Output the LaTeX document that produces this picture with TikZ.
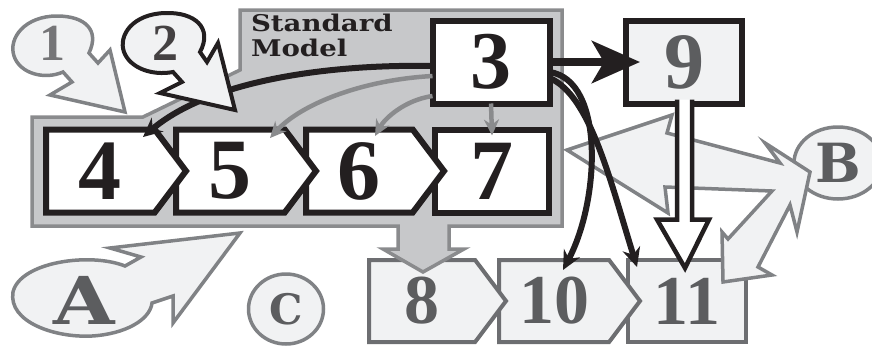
\documentclass[tikz,border=0pt]{standalone}
\usepackage{fontspec}
\setmainfont{DejaVu Serif}
\newfontfamily\numfont{Liberation Serif}
\newfontfamily\widefont[FakeStretch=1.2]{DejaVu Serif}
\usepackage{tikz}
\usetikzlibrary{shapes.symbols,shapes.geometric,calc,arrows.meta}
\definecolor{ink}{HTML}{231F20}
\definecolor{smfill}{HTML}{C7C8CA}
\definecolor{smedge}{HTML}{8A8B8D}
\definecolor{paper}{HTML}{F1F2F3}
\definecolor{greyedge}{HTML}{808285}
\definecolor{boxedge}{HTML}{6D6E71}
\definecolor{greytext}{HTML}{5C5D5F}

\begin{document}
\begin{tikzpicture}[x=1pt, y=-1pt,
	every node/.style={outer sep=0pt, inner sep=0pt},
	topbox/.style={draw=ink, line width=6pt, fill=white, text=ink, line join=miter,
		font=\numfont\bfseries\fontsize{86}{86}\selectfont, minimum height=83pt},
	lowbox/.style={draw=boxedge, line width=4pt, fill=paper, text=greytext, line join=miter,
		font=\numfont\bfseries\fontsize{70}{70}\selectfont, minimum height=82pt},
	chev/.style={shape=signal, signal to=east, signal pointer angle=106},
	loopy/.style={line width=3.5pt, fill=paper, line join=miter},
	ring/.style={shape=ellipse, draw=greyedge, line width=3.5pt, fill=paper, text=greytext},
	feed/.style={draw=smedge, line width=4.5pt, -{Stealth[length=16pt,width=15pt]}},
	link/.style={draw=ink, line width=6pt, -{Stealth[length=19pt,width=18pt]}}]
	\useasboundingbox (0,0) rectangle (872,346);
	\clip (0,0) rectangle (872,346);

	\node[lowbox, minimum width=118pt] (n11) at (687,301) {11};
	\node[lowbox, chev, minimum width=141pt, anchor=west] (n10) at (499,301) {10};
	\node[lowbox, chev, minimum width=137pt, anchor=west] (n8) at (369,301) {8};

	\draw[smedge, line width=3.5pt, fill=smfill, line join=miter]
		(32,117) -- (143,117) -- (240,70) -- (240,10) -- (562,10) -- (562,226)
		-- (449,226) -- (449,249) -- (464,249) -- (423,272) -- (383,249) -- (398,249)
		-- (398,226) -- (32,226) -- cycle;
	\node[font=\widefont\bfseries\fontsize{23}{25}\selectfont, text=ink, align=left, anchor=north west] (sm) at (251,14) {Standard\\Model};

	\node[topbox, minimum width=114pt] (n7) at (492,171) {7};
	\node[topbox, chev, minimum width=138pt, anchor=west] (n6) at (306,171) {6};
	\node[topbox, chev, minimum width=140pt, anchor=west] (n5) at (176,171) {5};
	\node[topbox, chev, minimum width=140pt, anchor=west] (n4) at (46,171) {4};
	\node[topbox, minimum width=117pt, font=\numfont\bfseries\fontsize{82}{82}\selectfont] (n3) at (491,62) {3};
	\node[topbox, fill=paper, text=greytext, minimum width=116pt, font=\numfont\bfseries\fontsize{80}{80}\selectfont] (n9) at (684,62) {9};

	\draw[feed] ($(n3.west)+(0,14)$) .. controls (360,80) and (300,105) .. ($(n5.west)+(94,-33)$);
	\draw[feed] ($(n3.west)+(0,34)$) .. controls (405,100) and (385,118) .. ($(n6.west)+(69,-35)$);
	\draw[feed] (n3.south) -- ($(n7.north)+(0,6)$);
	\draw[link] ($(n3.west)+(0,4)$) .. controls (330,64) and (210,80) .. ($(n4.west)+(97,-34)$);

	\draw[loopy, draw=greyedge] (125,112) -- (110,50) -- (98,63) -- (89,53)
		.. controls (100,30) and (85,16) .. (57,16)
		.. controls (25,16) and (8,38) .. (14,56)
		.. controls (20,74) and (45,80) .. (63,72)
		-- (72,82) -- (50,95) -- cycle;
	\draw[loopy, draw=ink, line width=4pt] (235,110) -- (218,43) -- (207,62) -- (200,52)
		.. controls (213,28) and (195,12) .. (165,13)
		.. controls (133,14) and (118,35) .. (124,52)
		.. controls (130,68) and (152,76) .. (173,72)
		-- (182,82) -- (160,93) -- cycle;
	\node[font=\numfont\bfseries\fontsize{52}{52}\selectfont, text=greytext!85] (lbl1) at (52,43) {1};
	\node[font=\numfont\bfseries\fontsize{52}{52}\selectfont, text=ink!85] (lbl2) at (165,43) {2};

	\node[ring, minimum width=88pt, minimum height=72pt, font=\bfseries\fontsize{54}{54}\selectfont] (lblB) at (838,163) {B};
	\draw[loopy, draw=greyedge] (567,150) -- (672,115) -- (667,133) -- (780,163) -- (765,143)
		-- (810,172) -- (797,232) -- (790,205) -- (758,267) -- (772,275) -- (723,282)
		-- (722,232) -- (728,239) -- (772,191) -- (665,187) -- (668,213) -- cycle;

	\draw[ink, line width=4.5pt, fill=white, line join=miter]
		($(n9.south)+(-7,-4)$) -- ($(n9.south)+(-7,116)$) -- ($(n9.south)+(-27,116)$)
		-- ($(n11.north)+(-2,8)$) -- ($(n9.south)+(25,116)$) -- ($(n9.south)+(8,116)$)
		-- ($(n9.south)+(8,-4)$);
	\draw[link] ($(n3.east)+(0,10)$) .. controls (605,80) and (600,200) .. ($(n10.west)+(64,-31)$);
	\draw[link] ($(n3.east)+(0,16)$) .. controls (590,95) and (610,180) .. ($(n11.north west)+(9,7)$);
	\draw[ink, line width=8pt, -{Stealth[length=48pt,width=42pt,inset=12pt]}] (n3.east) -- ($(n9.west)+(14,0)$);

	\draw[loopy, draw=greyedge] (240,233) -- (110,248) -- (141,257) -- (125,266)
		.. controls (90,252) and (20,262) .. (13,292)
		.. controls (8,322) and (55,338) .. (92,336)
		.. controls (125,334) and (150,320) .. (152,303)
		-- (173,296) -- (173,323) -- cycle;
	\node[font=\widefont\bfseries\fontsize{66}{66}\selectfont, text=greytext] (lblA) at (84,300) {A};
	\node[ring, minimum width=75pt, minimum height=70pt, font=\bfseries\fontsize{42}{42}\selectfont] (lblC) at (286,309) {C};
\end{tikzpicture}
\end{document}
